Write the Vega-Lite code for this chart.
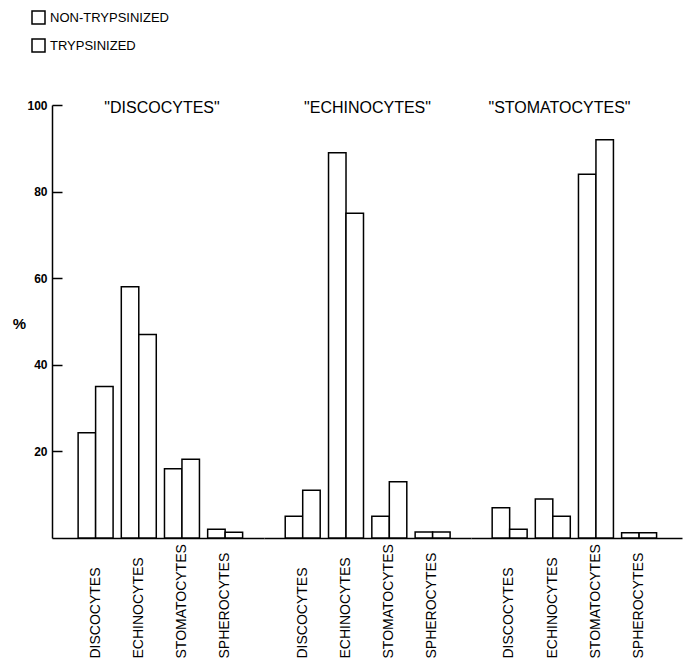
{
  "$schema": "https://vega.github.io/schema/vega-lite/v6.json",
  "padding": {"left": 12, "top": 10, "right": 5, "bottom": 4},
  "background": "white",
  "data": {"values": [
    {"group": "DISCOCYTES", "cell": "DISCOCYTES", "treatment": "NON-TRYPSINIZED", "pct": 24.3},
    {"group": "DISCOCYTES", "cell": "DISCOCYTES", "treatment": "TRYPSINIZED", "pct": 35},
    {"group": "DISCOCYTES", "cell": "ECHINOCYTES", "treatment": "NON-TRYPSINIZED", "pct": 58},
    {"group": "DISCOCYTES", "cell": "ECHINOCYTES", "treatment": "TRYPSINIZED", "pct": 47},
    {"group": "DISCOCYTES", "cell": "STOMATOCYTES", "treatment": "NON-TRYPSINIZED", "pct": 16},
    {"group": "DISCOCYTES", "cell": "STOMATOCYTES", "treatment": "TRYPSINIZED", "pct": 18.2},
    {"group": "DISCOCYTES", "cell": "SPHEROCYTES", "treatment": "NON-TRYPSINIZED", "pct": 2},
    {"group": "DISCOCYTES", "cell": "SPHEROCYTES", "treatment": "TRYPSINIZED", "pct": 1.3},
    {"group": "ECHINOCYTES", "cell": "DISCOCYTES", "treatment": "NON-TRYPSINIZED", "pct": 5},
    {"group": "ECHINOCYTES", "cell": "DISCOCYTES", "treatment": "TRYPSINIZED", "pct": 11},
    {"group": "ECHINOCYTES", "cell": "ECHINOCYTES", "treatment": "NON-TRYPSINIZED", "pct": 89},
    {"group": "ECHINOCYTES", "cell": "ECHINOCYTES", "treatment": "TRYPSINIZED", "pct": 75},
    {"group": "ECHINOCYTES", "cell": "STOMATOCYTES", "treatment": "NON-TRYPSINIZED", "pct": 5},
    {"group": "ECHINOCYTES", "cell": "STOMATOCYTES", "treatment": "TRYPSINIZED", "pct": 13},
    {"group": "ECHINOCYTES", "cell": "SPHEROCYTES", "treatment": "NON-TRYPSINIZED", "pct": 1.4},
    {"group": "ECHINOCYTES", "cell": "SPHEROCYTES", "treatment": "TRYPSINIZED", "pct": 1.4},
    {"group": "STOMATOCYTES", "cell": "DISCOCYTES", "treatment": "NON-TRYPSINIZED", "pct": 7},
    {"group": "STOMATOCYTES", "cell": "DISCOCYTES", "treatment": "TRYPSINIZED", "pct": 2},
    {"group": "STOMATOCYTES", "cell": "ECHINOCYTES", "treatment": "NON-TRYPSINIZED", "pct": 9},
    {"group": "STOMATOCYTES", "cell": "ECHINOCYTES", "treatment": "TRYPSINIZED", "pct": 5},
    {"group": "STOMATOCYTES", "cell": "STOMATOCYTES", "treatment": "NON-TRYPSINIZED", "pct": 84},
    {"group": "STOMATOCYTES", "cell": "STOMATOCYTES", "treatment": "TRYPSINIZED", "pct": 92},
    {"group": "STOMATOCYTES", "cell": "SPHEROCYTES", "treatment": "NON-TRYPSINIZED", "pct": 1.2},
    {"group": "STOMATOCYTES", "cell": "SPHEROCYTES", "treatment": "TRYPSINIZED", "pct": 1.2}
  ]},
  "spacing": 0,
  "resolve": {"scale": {"x": "independent"}},
  "hconcat": [
    {
      "width": 212, "height": 433,
      "title": {"text": "\"DISCOCYTES\"", "frame": "group", "anchor": "middle", "baseline": "alphabetic", "offset": -8, "dy": 22, "dx": 4},
      "transform": [{"filter": "datum.group === 'DISCOCYTES'"}],
      "mark": {"type": "bar", "stroke": "black", "strokeWidth": 1.5},
      "encoding": {
        "x": {"field": "cell", "type": "nominal", "sort": ["DISCOCYTES", "ECHINOCYTES", "STOMATOCYTES", "SPHEROCYTES"],
              "scale": {"paddingInner": 0.19, "paddingOuter": 0.55, "align": 0.55}, "title": null},
        "xOffset": {"field": "treatment", "type": "nominal", "sort": ["NON-TRYPSINIZED", "TRYPSINIZED"], "scale": {"paddingInner": 0, "paddingOuter": 0}},
        "y": {"field": "pct", "type": "quantitative", "scale": {"domain": [0, 100], "nice": false},
              "axis": {"values": [20, 40, 60, 80, 100], "title": "%", "titleAngle": 0, "titleX": -33, "titleY": 218, "titleAlign": "center", "titleBaseline": "middle", "titleFontSize": 15, "titleFontWeight": "bold", "tickSize": -10, "labelPadding": 15, "grid": false}},
        "color": {"field": "treatment", "type": "nominal", "sort": ["NON-TRYPSINIZED", "TRYPSINIZED"],
                  "scale": {"range": ["white", "white"]},
                  "legend": {"title": null, "orient": "none", "legendX": -21, "legendY": -95, "symbolType": "square", "symbolSize": 169, "symbolStrokeColor": "black", "symbolStrokeWidth": 1.5, "symbolFillColor": "white", "labelFontSize": 13, "labelOffset": 4, "rowPadding": 9, "padding": 0}}
      }
    },
    {
      "width": 207, "height": 433,
      "title": {"text": "\"ECHINOCYTES\"", "frame": "group", "anchor": "middle", "baseline": "alphabetic", "offset": -8, "dy": 16, "dx": 0},
      "transform": [{"filter": "datum.group === 'ECHINOCYTES'"}],
      "mark": {"type": "bar", "stroke": "black", "strokeWidth": 1.5, "fill": "white"},
      "encoding": {
        "x": {"field": "cell", "type": "nominal", "sort": ["DISCOCYTES", "ECHINOCYTES", "STOMATOCYTES", "SPHEROCYTES"],
              "scale": {"paddingInner": 0.2, "paddingOuter": 0.49, "align": 0.5}, "title": null},
        "xOffset": {"field": "treatment", "type": "nominal", "sort": ["NON-TRYPSINIZED", "TRYPSINIZED"], "scale": {"paddingInner": 0, "paddingOuter": 0}},
        "y": {"field": "pct", "type": "quantitative", "scale": {"domain": [0, 100], "nice": false}, "axis": null}
      }
    },
    {
      "width": 211, "height": 433,
      "title": {"text": "\"STOMATOCYTES\"", "frame": "group", "anchor": "middle", "baseline": "alphabetic", "offset": -8, "dy": 16, "dx": -17},
      "transform": [{"filter": "datum.group === 'STOMATOCYTES'"}],
      "mark": {"type": "bar", "stroke": "black", "strokeWidth": 1.5, "fill": "white"},
      "encoding": {
        "x": {"field": "cell", "type": "nominal", "sort": ["DISCOCYTES", "ECHINOCYTES", "STOMATOCYTES", "SPHEROCYTES"],
              "scale": {"paddingInner": 0.2, "paddingOuter": 0.545, "align": 0.45}, "title": null},
        "xOffset": {"field": "treatment", "type": "nominal", "sort": ["NON-TRYPSINIZED", "TRYPSINIZED"], "scale": {"paddingInner": 0, "paddingOuter": 0}},
        "y": {"field": "pct", "type": "quantitative", "scale": {"domain": [0, 100], "nice": false}, "axis": null}
      }
    }
  ],
  "config": {
    "font": "Liberation Sans",
    "view": {"stroke": null},
    "title": {"fontSize": 16, "fontWeight": "normal", "color": "black", "font": "Liberation Sans"},
    "axis": {"domainColor": "black", "domainWidth": 1.5, "tickColor": "black", "tickWidth": 1.5, "labelColor": "black", "titleColor": "black", "labelFont": "Liberation Sans", "titleFont": "Liberation Sans"},
    "axisY": {"labelFontSize": 12, "labelFontWeight": "bold"},
    "axisX": {"ticks": false, "tickSize": 0, "labelAngle": 270, "labelAlign": "left", "labelBaseline": "middle", "labelPadding": 120, "labelFontSize": 14, "domainWidth": 1.5},
    "legend": {"labelColor": "black", "labelFont": "Liberation Sans"}
  }
}
